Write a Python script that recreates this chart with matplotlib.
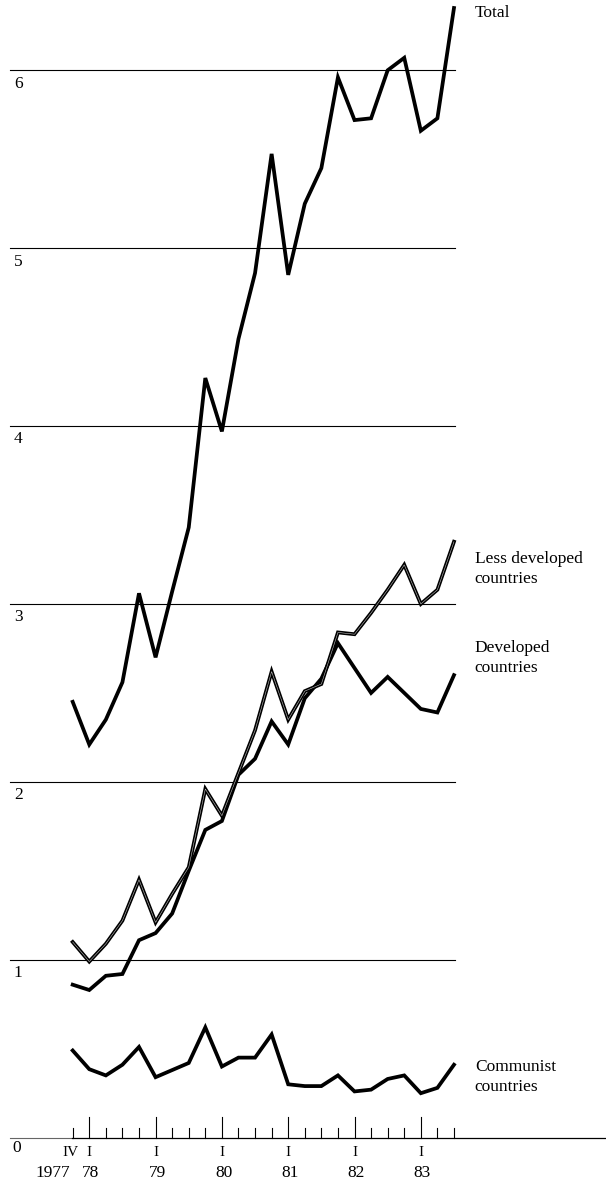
import matplotlib
matplotlib.use('Agg')
import matplotlib.pyplot as plt

# quarters from IV 1977 to III 1983
quarters = list(range(24))
year_ticks = [1, 5, 9, 13, 17, 21]
year_labels = ['78', '79', '80', '81', '82', '83']

total = [2.45, 2.21, 2.35, 2.56, 3.06, 2.70, 3.07, 3.43, 4.27, 3.97, 4.49, 4.86,
         5.53, 4.85, 5.25, 5.45, 5.96, 5.72, 5.73, 6.00, 6.07, 5.66, 5.73, 6.35]
less_developed = [1.10, 0.99, 1.09, 1.22, 1.45, 1.21, 1.37, 1.52, 1.96, 1.81, 2.05, 2.29,
                  2.62, 2.35, 2.51, 2.55, 2.84, 2.83, 2.95, 3.08, 3.22, 3.00, 3.08, 3.35]
developed = [0.86, 0.83, 0.91, 0.92, 1.11, 1.15, 1.26, 1.50, 1.73, 1.78, 2.04, 2.13,
             2.34, 2.21, 2.47, 2.58, 2.78, 2.64, 2.50, 2.59, 2.50, 2.41, 2.39, 2.60]
communist = [0.49, 0.385, 0.35, 0.41, 0.51, 0.34, 0.38, 0.42, 0.62, 0.40, 0.45, 0.45,
             0.58, 0.30, 0.29, 0.29, 0.35, 0.26, 0.27, 0.33, 0.35, 0.25, 0.28, 0.41]
grid_values = [1, 2, 3, 4, 5, 6]

plt.rcParams['font.family'] = ['Liberation Serif', 'DejaVu Serif']

fig = plt.figure(figsize=(6.06, 11.85), dpi=100)
ax = fig.add_axes([0, 0, 1, 1])
ax.set_xlim(-4.385, 32.17)
ax.set_ylim(-0.266, 6.395)
ax.axis('off')

# horizontal rules with their value just below, at the left
for v in grid_values:
    ax.plot([-3.78, 23.05], [v, v], color='black', lw=0.8)
    ax.text(-3.55, v - 0.03, str(v), ha='left', va='top', fontsize=12.5)

# time axis
ax.plot([-3.78, -0.05], [0, 0], color='#666666', lw=0.8)
ax.plot([-0.05, 32.17], [0, 0], color='black', lw=0.9)
for q in quarters:
    h = 0.118 if q in year_ticks else 0.056
    ax.plot([q, q], [0, h], color='black', lw=0.8)
ax.text(-3.65, -0.015, '0', ha='left', va='top', fontsize=12.5)
ax.text(-0.15, -0.045, 'IV', ha='center', va='top', fontsize=11)
ax.text(-1.2, -0.155, '1977', ha='center', va='top', fontsize=12.5)
for q, lab in zip(year_ticks, year_labels):
    ax.text(q, -0.045, 'I', ha='center', va='top', fontsize=11)
    ax.text(q + 0.1, -0.155, lab, ha='center', va='top', fontsize=12.5)

# series
lw = 2.7
ax.plot(quarters, total, color='black', lw=lw, solid_joinstyle='miter')
ax.plot(quarters, developed, color='black', lw=lw, solid_joinstyle='miter')
ax.plot(quarters, less_developed, color='black', lw=lw, solid_joinstyle='miter')
ax.plot(quarters, less_developed, color='#d8d8d8', lw=0.35, solid_joinstyle='miter')
ax.plot(quarters, communist, color='black', lw=lw, solid_joinstyle='miter')

lx = 24.26
ax.text(lx, 6.32, 'Total', ha='left', va='center', fontsize=12.5)
ax.text(lx, 3.197, 'Less developed\ncountries', ha='left', va='center', fontsize=12.5, linespacing=1.3)
ax.text(lx, 2.696, 'Developed\ncountries', ha='left', va='center', fontsize=12.5, linespacing=1.3)
ax.text(lx, 0.34, 'Communist\ncountries', ha='left', va='center', fontsize=12.5, linespacing=1.3)

fig.savefig('out.png', dpi=100, facecolor='white')
